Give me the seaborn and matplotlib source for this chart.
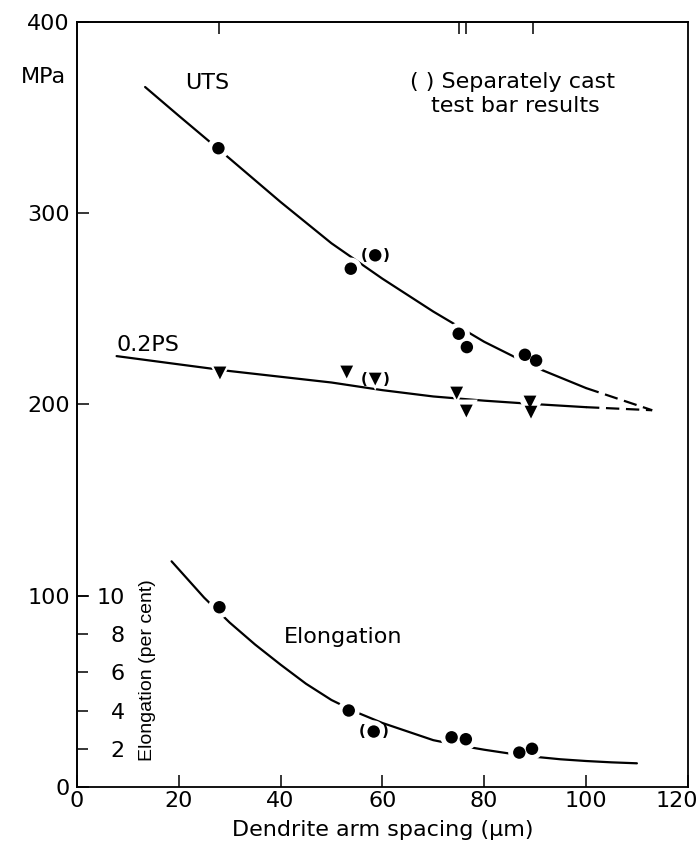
import matplotlib
matplotlib.use("Agg")
import matplotlib.pyplot as plt
import matplotlib.transforms as mtrans
import seaborn as sns

# measured test points (dendrite arm spacing in um)
uts_das = [27.8, 53.8, 75.0, 76.6, 88.0, 90.2]
uts_mpa = [334, 271, 237, 230, 226, 223]
uts_sep_das = [58.6]
uts_sep_mpa = [278]

ps_das = [28.1, 53.0, 74.6, 76.5, 89.0, 89.2]
ps_mpa = [216.5, 217.0, 206.0, 196.6, 201.3, 196.0]
ps_sep_das = [58.6]
ps_sep_mpa = [213.3]

el_das = [28.0, 53.4, 73.6, 76.4, 86.9, 89.4]
el_pct = [9.4, 4.0, 2.6, 2.5, 1.8, 2.0]
el_sep_das = [58.3]
el_sep_pct = [2.9]

# curves as drawn through the points
uts_curve_x = [13.4, 20, 30, 40, 50, 60, 70, 80, 90, 100, 113]
uts_curve_y = [366, 351, 328.6, 305.9, 284.3, 265.8, 248.6, 232.8, 219.5, 208.6, 197]
ps_curve_x = [7.8, 20, 30, 40, 50, 60, 70, 80, 90, 100, 113]
ps_curve_y = [225.3, 221, 217.5, 214.5, 211.5, 207.5, 204.2, 202, 200.2, 198.6, 197]
el_curve_x = [18.6, 25, 30, 35, 40, 45, 50, 55, 60, 65, 70, 75, 80, 85, 90, 95, 100, 105, 110]
el_curve_y = [11.8, 9.9, 8.6, 7.45, 6.4, 5.4, 4.55, 3.9, 3.35, 2.9, 2.45, 2.18, 1.95, 1.75,
              1.58, 1.45, 1.36, 1.29, 1.24]

top_marks = [28, 75, 76.5, 89.5]
el_ticks = [2, 4, 6, 8, 10]
EL_SCALE = 10  # 1 per cent elongation drawn as 10 MPa

sns.set_style("ticks")
plt.rcParams["font.family"] = ["DejaVu Sans"]
plt.rcParams["text.color"] = "black"
plt.rcParams["axes.labelcolor"] = "black"
plt.rcParams["xtick.color"] = "black"
plt.rcParams["ytick.color"] = "black"

FS = 16

fig = plt.figure(figsize=(6.99, 8.42), dpi=100)
ax = fig.add_axes([0.110, 0.0653, 0.874, 0.9086])

lw = 1.6
dash = (0, (6, 3))


def draw_curve(xs, ys, split=100):
    solid_x = [x for x in xs if x <= split]
    solid_y = [y for x, y in zip(xs, ys) if x <= split]
    dash_x = [x for x in xs if x >= split]
    dash_y = [y for x, y in zip(xs, ys) if x >= split]
    sns.lineplot(x=solid_x, y=solid_y, ax=ax, color="black", lw=lw, zorder=2)
    if len(dash_x) > 1:
        sns.lineplot(x=dash_x, y=dash_y, ax=ax, color="black", lw=lw,
                     linestyle=dash, zorder=2)


draw_curve(uts_curve_x, uts_curve_y)
draw_curve(ps_curve_x, ps_curve_y)
el_curve_mpa = [v * EL_SCALE for v in el_curve_y]
draw_curve(el_curve_x, el_curve_mpa, split=200)


def draw_points(xs, ys, marker, size):
    # white halo first to break the line, then the solid marks
    sns.scatterplot(x=xs, y=ys, ax=ax, marker=marker, s=size * 3.2, color="white",
                    edgecolor="none", zorder=3)
    sns.scatterplot(x=xs, y=ys, ax=ax, marker=marker, s=size, color="black",
                    edgecolor="none", zorder=4)


draw_points(uts_das + uts_sep_das, uts_mpa + uts_sep_mpa, "o", 80)
draw_points(ps_das + ps_sep_das, ps_mpa + ps_sep_mpa, "v", 85)
el_all = [v * EL_SCALE for v in el_pct + el_sep_pct]
draw_points(el_das + el_sep_das, el_all, "o", 80)

# brackets round separately cast bar results
for x, y in [(uts_sep_das[0], uts_sep_mpa[0]), (ps_sep_das[0], ps_sep_mpa[0]),
             (el_sep_das[0], el_sep_pct[0] * EL_SCALE)]:
    for ch, dx in [("(", -8), (")", 8)]:
        ax.annotate(ch, (x, y), xytext=(dx, 0), textcoords="offset points",
                    ha="center", va="center", fontsize=11, fontweight="bold", zorder=5)

ax.set_xlim(0, 120)
ax.set_ylim(0, 400)
ax.set_xticks([0, 20, 40, 60, 80, 100, 120])
ax.set_yticks([0, 100, 200, 300, 400])
ax.tick_params(direction="in", length=8.5, width=1.1, labelsize=FS, pad=5)
ax.tick_params(axis="x", pad=3)
for sp in ax.spines.values():
    sp.set_linewidth(1.3)
    sp.set_color("black")

# last x label pulled in so it stays on the page
fig.canvas.draw()
last = ax.get_xticklabels()[-1]
last.set_transform(last.get_transform() + mtrans.ScaledTranslation(-0.11, 0, fig.dpi_scale_trans))

ax.set_xlabel("Dendrite arm spacing (\u03bcm)", fontsize=FS, labelpad=6)
ax.text(-2.2, 371, "MPa", ha="right", va="center", fontsize=FS, clip_on=False)

# elongation scale on the left spine, inside the frame
sec = ax.secondary_yaxis(0.0, functions=(lambda y: y / EL_SCALE, lambda e: e * EL_SCALE))
sec.set_alignment("right")
sec.set_yticks(el_ticks, labels=[str(t) for t in el_ticks])
sec.tick_params(direction="out", length=8, width=1.1, pad=26.5, labelsize=FS)
for t in sec.yaxis.get_majorticklabels():
    t.set_horizontalalignment("right")
sec.spines["right"].set_linewidth(1.3)
ax.text(13.9, 61, "Elongation (per cent)", rotation=90, ha="center", va="center",
        fontsize=14, family="Liberation Sans")

# marks carried down from the panel above
top = ax.secondary_xaxis("top")
top.set_xticks(top_marks, labels=[""] * len(top_marks))
top.tick_params(direction="in", length=8.5, width=1.1)
top.spines["top"].set_linewidth(1.3)

ax.text(25.5, 368, "UTS", ha="center", va="center", fontsize=FS)
ax.text(7.8, 231, "0.2PS", ha="left", va="center", fontsize=FS)
ax.text(40.7, 78.5, "Elongation", ha="left", va="center", fontsize=FS)
ax.text(65.5, 368.5, "( ) Separately cast", ha="left", va="center", fontsize=FS)
ax.text(69.5, 356, "test bar results", ha="left", va="center", fontsize=FS)

fig.savefig("out.png", dpi=100)
